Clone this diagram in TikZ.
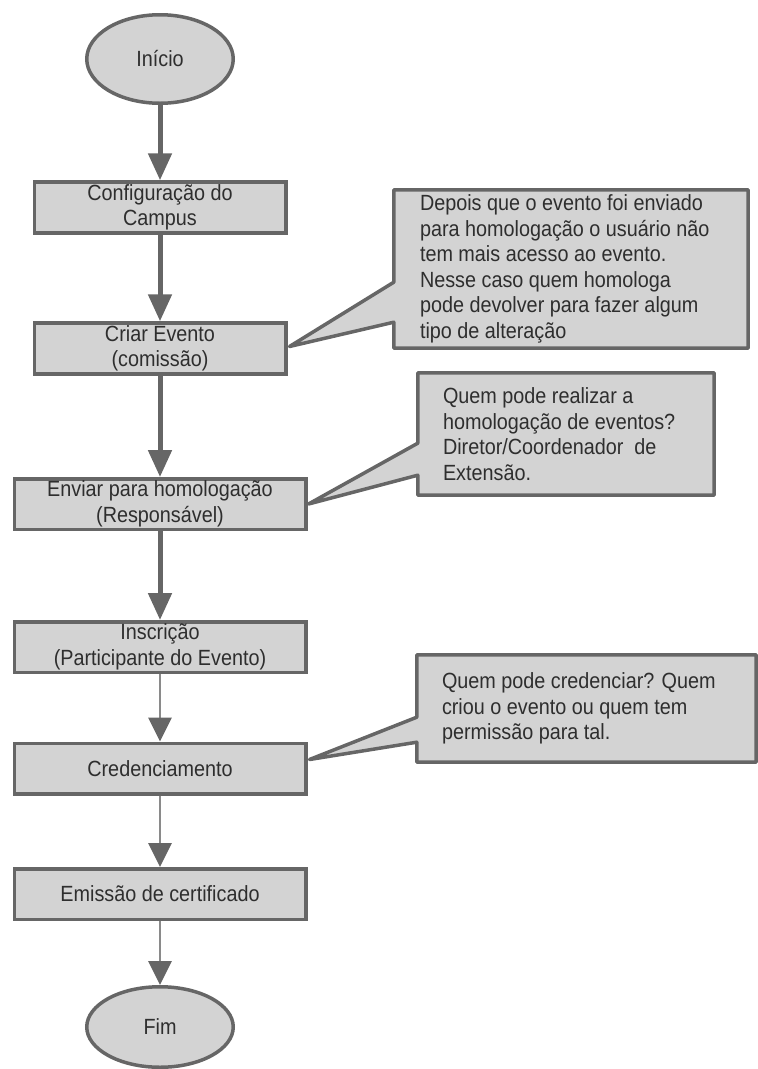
\documentclass[tikz,border=0pt]{standalone}
\usepackage{fontspec}
\setmainfont{Liberation Sans}[FakeStretch=0.9]
\usetikzlibrary{arrows.meta,calc,shapes.geometric,backgrounds}
\definecolor{boxfill}{HTML}{D3D3D3}
\definecolor{edgegray}{HTML}{666666}
\definecolor{thingray}{HTML}{8A8A8A}
\definecolor{txtgray}{HTML}{2E2E2E}
\begin{document}
\begin{tikzpicture}[x=1pt,y=-1pt,
  every node/.style={font=\fontsize{22}{25.5}\selectfont, text=txtgray},
  procbox/.style={draw=edgegray, fill=boxfill, line width=3.5pt, rectangle, align=center, inner sep=0pt},
  narrowbox/.style={procbox, minimum width=251.5pt, minimum height=51pt},
  widebox/.style={procbox, minimum width=291.5pt, minimum height=50.5pt},
  terminal/.style={draw=edgegray, fill=boxfill, line width=3.5pt, ellipse, inner sep=0pt, minimum width=146.5pt},
  thickflow/.style={draw=edgegray, line width=5pt, -{Triangle[length=27pt,width=23pt]}},
  thinflow/.style={draw=thingray, line width=2.8pt, -{Triangle[length=24pt,width=23pt,color=edgegray]}},
  noteframe/.style={draw=none, fill=none, inner sep=0pt, rectangle},
  noteshape/.style={draw=edgegray, fill=boxfill, line width=3.5pt, line join=round},
  notetext/.style={anchor=west, align=left, inner sep=0pt}
]
\path[use as bounding box] (0,0) rectangle (758,1069);

% flow nodes
\node[terminal, minimum height=88.5pt] (inicio) at (160,59) {Início};
\node[narrowbox] (config) at (160,207.5) {Configuração do\\Campus};
\node[narrowbox] (criar) at (160,348.5) {Criar Evento\\(comissão)};
\node[widebox] (enviar) at (160,504) {Enviar para homologação\\(Responsável)};
\node[widebox] (inscricao) at (160,647) {Inscrição\\(Participante do Evento)};
\node[widebox] (cred) at (160,768.5) {Credenciamento};
\node[widebox] (emissao) at (160,894) {Emissão de certificado};
\node[terminal, minimum height=80.5pt] (fim) at (160,1027) {Fim};

% connectors
\draw[thickflow] (inicio) -- (config);
\draw[thickflow] (config) -- (criar);
\draw[thickflow] (criar) -- (enviar);
\draw[thickflow] (enviar) -- (inscricao);
\draw[thinflow] (inscricao) -- (cred);
\draw[thinflow] (cred) -- (emissao);
\draw[thinflow] (emissao) -- (fim);

% callout frames
\node[noteframe, minimum width=354pt, minimum height=158pt] (n1) at (571,269) {};
\node[noteframe, minimum width=296pt, minimum height=122pt] (n2) at (566,434) {};
\node[noteframe, minimum width=339pt, minimum height=107pt] (n3) at (586.5,708.5) {};

\begin{scope}[on background layer]
\draw[noteshape] (n1.north west) -- (n1.north east) -- (n1.south east) -- (n1.south west)
  -- ($(n1.south west)+(0,-26)$) -- ($(criar.east)+(2,-2)$) -- ($(n1.south west)+(0,-66)$) -- cycle;
\draw[noteshape] (n2.north west) -- (n2.north east) -- (n2.south east) -- (n2.south west)
  -- ($(n2.south west)+(0,-20)$) -- ($(enviar.east)+(1,0)$) -- ($(n2.south west)+(0,-52)$) -- cycle;
\draw[noteshape] (n3.north west) -- (n3.north east) -- (n3.south east) -- (n3.south west)
  -- ($(n3.south west)+(0,-20)$) -- ($(cred.east)+(2,-9)$) -- ($(n3.south west)+(0,-45)$) -- cycle;
\end{scope}

% callout texts
\node[notetext] (n1t) at ($(n1.west)+(26,0)$) {Depois que o evento foi enviado\\para homologação o usuário não\\tem mais acesso ao evento.\\Nesse caso quem homologa\\pode devolver para fazer algum\\tipo de alteração};
\node[notetext] (n2t) at ($(n2.west)+(25,0)$) {Quem pode realizar a\\homologação de eventos?\\Diretor/Coordenador~~de\\Extensão.};
\node[notetext] (n3t) at ($(n3.west)+(25,0)$) {Quem pode credenciar? Quem\\criou o evento ou quem tem\\permissão para tal.};
\end{tikzpicture}
\end{document}
